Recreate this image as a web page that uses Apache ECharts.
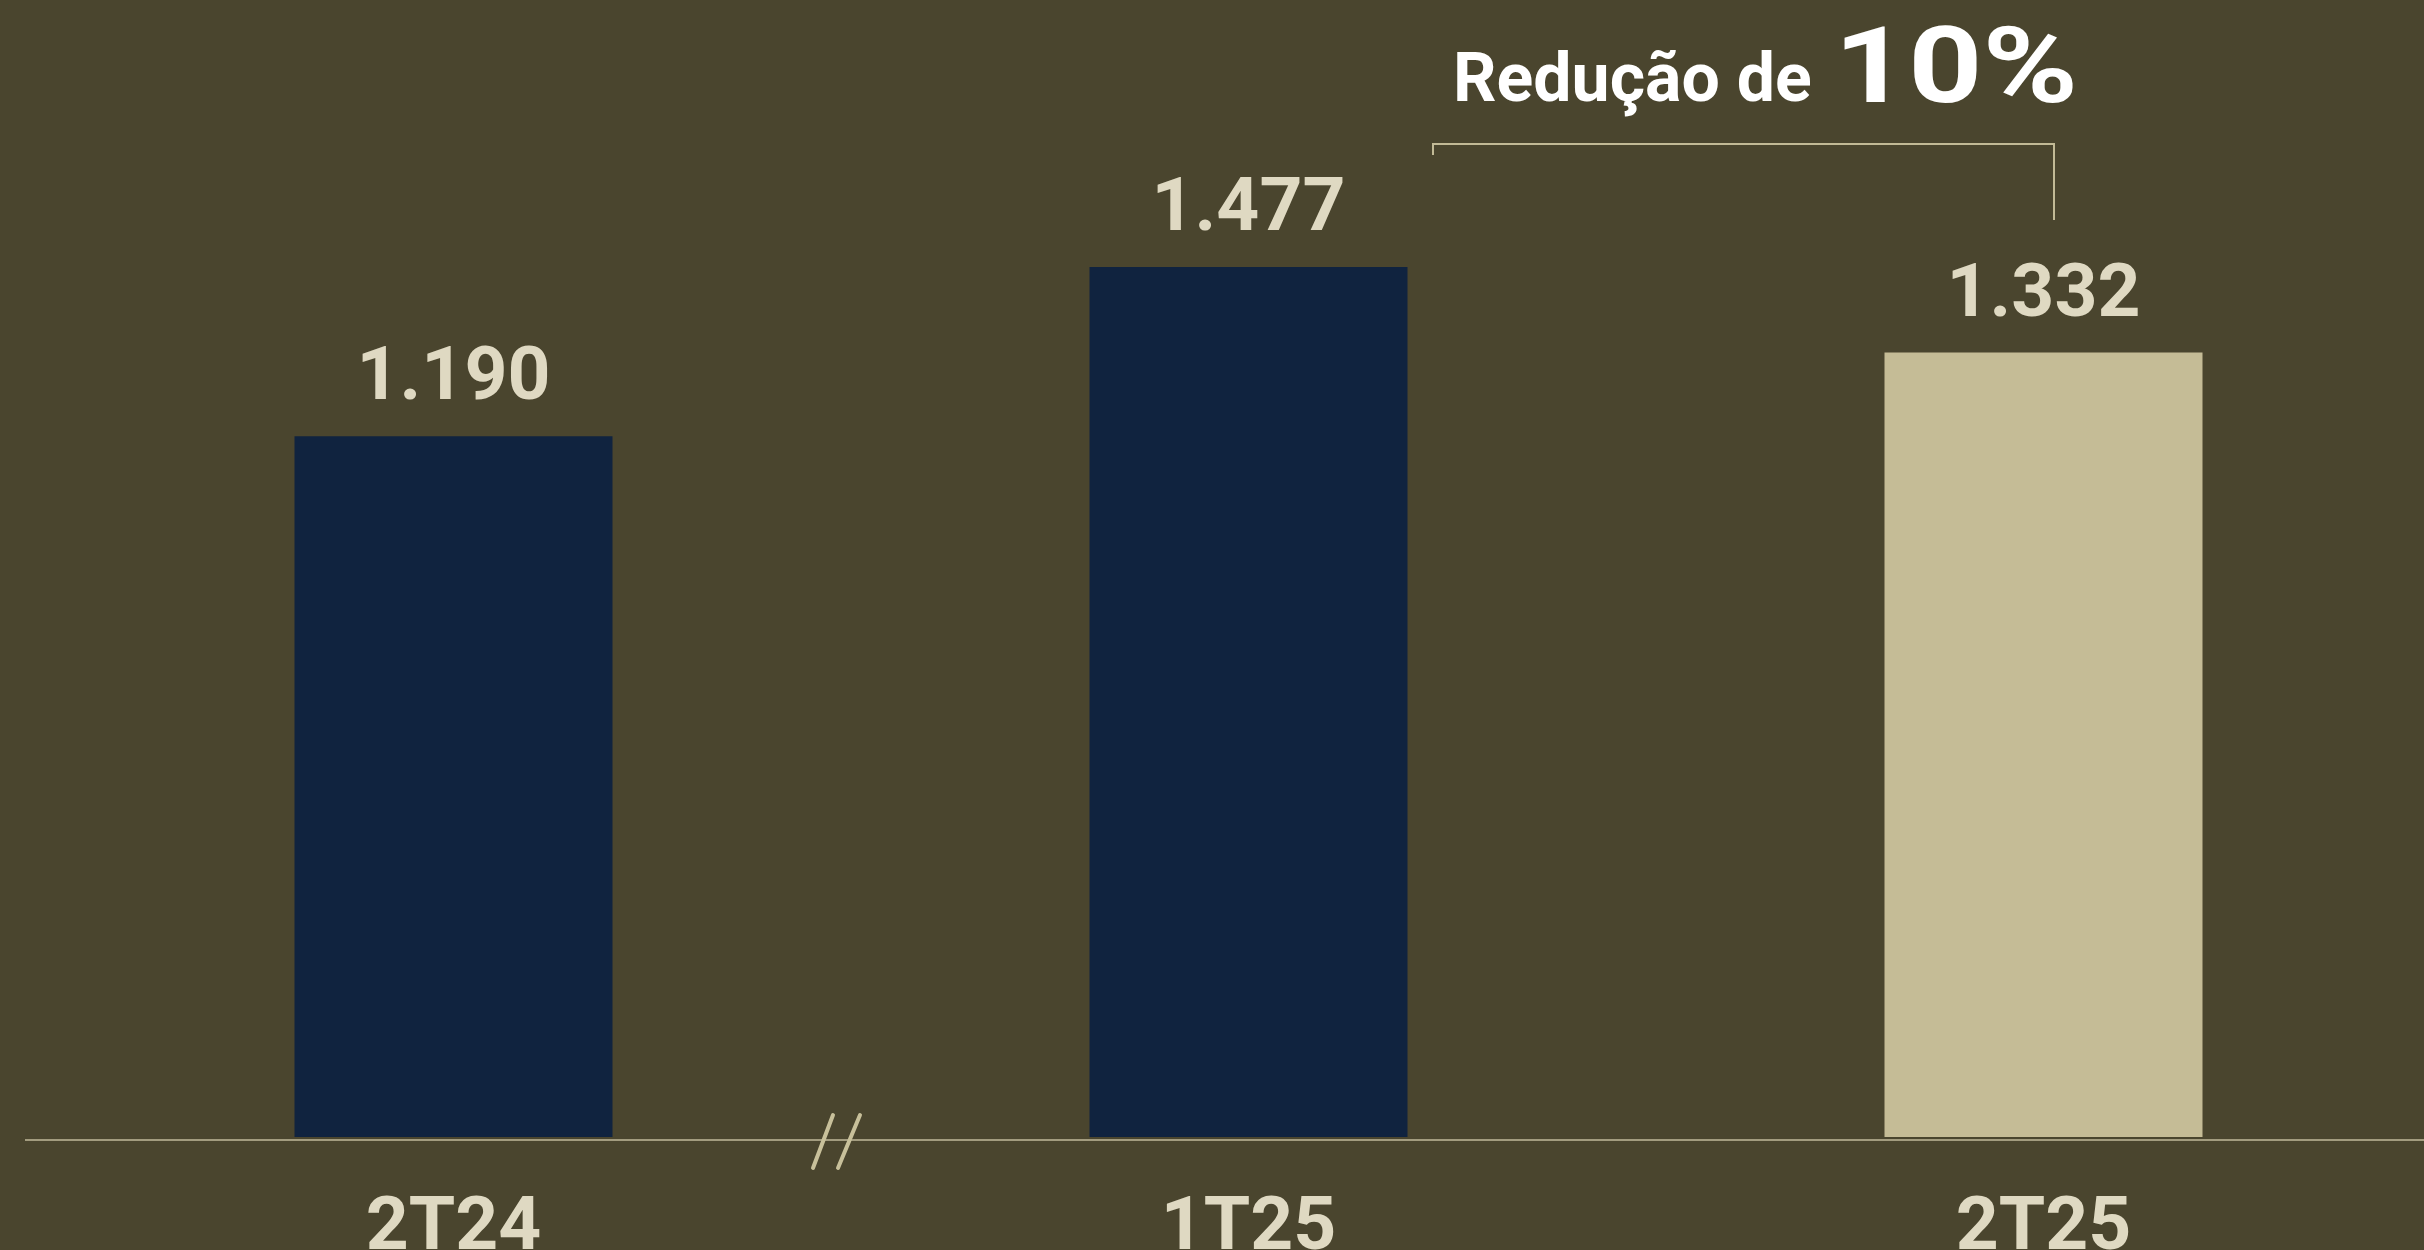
<!DOCTYPE html>
<html>
<head>
<meta charset="utf-8">
<script src="https://cdn.jsdelivr.net/npm/echarts@6/dist/echarts.min.js"></script>
<style>
  html, body { margin: 0; padding: 0; background: #4a452e; overflow: hidden; }
  #chart { width: 2424px; height: 1250px; }
</style>
</head>
<body>
<div id="chart"></div>
<script>
// dados do gráfico
const categories = ['2T24', '1T25', '2T25']
const values = [1190, 1477, 1332]
const barColors = ['#10233f', '#10233f', '#c5bc96']
const titleText = 'Redução de '
const titleHighlight = '10%'

const labelColor = '#dfd9c2'
const fontFamily = 'Roboto, "Noto Sans", sans-serif'

const formatNumber = (v) => String(v).replace(/\B(?=(\d{3})+(?!\d))/g, '.')

const chart = echarts.init(document.getElementById('chart'))

const option = {
  backgroundColor: '#4a452e',
  animation: false,
  grid: {
    left: 56,
    width: 2385,
    top: 18,
    bottom: 113,
    containLabel: false,
    outerBoundsMode: 'none'
  },
  xAxis: {
    type: 'category',
    data: categories,
    axisLine: { show: false },
    axisTick: { show: false },
    axisLabel: {
      color: labelColor,
      fontFamily: fontFamily,
      fontWeight: 'bold',
      fontSize: 75,
      lineHeight: 75,
      margin: 56
    }
  },
  yAxis: {
    type: 'value',
    min: 0,
    max: 1900,
    show: false,
    splitLine: { show: false }
  },
  series: [
    {
      type: 'bar',
      barWidth: 318,
      data: values.map((v, i) => ({ value: v, itemStyle: { color: barColors[i] } })),
      label: {
        show: true,
        position: 'top',
        distance: 18,
        color: labelColor,
        fontFamily: fontFamily,
        fontWeight: 'bold',
        fontSize: 75,
        lineHeight: 75,
        formatter: (p) => formatNumber(p.value)
      }
    }
  ],
  graphic: [
    // linha do eixo
    {
      type: 'line',
      shape: { x1: 25, y1: 1140, x2: 2424, y2: 1140 },
      style: { stroke: '#a39c7f', lineWidth: 2 }
    },
    // quebra de eixo "//"
    {
      type: 'line',
      shape: { x1: 833, y1: 1115, x2: 813, y2: 1168 },
      style: { stroke: '#c8c09a', lineWidth: 4, lineCap: 'round' }
    },
    {
      type: 'line',
      shape: { x1: 860, y1: 1115, x2: 838, y2: 1168 },
      style: { stroke: '#c8c09a', lineWidth: 4, lineCap: 'round' }
    },
    // colchete de comparação
    {
      type: 'polyline',
      shape: { points: [[1433, 155], [1433, 144], [2054, 144], [2054, 220]] },
      style: { stroke: '#c2ba96', lineWidth: 2, fill: null }
    },
    {
      type: 'text',
      x: 1453,
      y: 84,
      style: {
        text: titleText,
        x: 0,
        y: 0,
        fill: '#ffffff',
        font: 'bold 68px ' + fontFamily,
        textAlign: 'left',
        textVerticalAlign: 'middle'
      }
    },
    {
      type: 'text',
      x: 1834,
      y: 75,
      scaleX: 1.22,
      style: {
        text: titleHighlight,
        x: 0,
        y: 0,
        fill: '#ffffff',
        font: 'bold 106px ' + fontFamily,
        textAlign: 'left',
        textVerticalAlign: 'middle'
      }
    }
  ]
}

chart.setOption(option)

window.addEventListener('resize', () => {
  chart.resize()
})
</script>
</body>
</html>
